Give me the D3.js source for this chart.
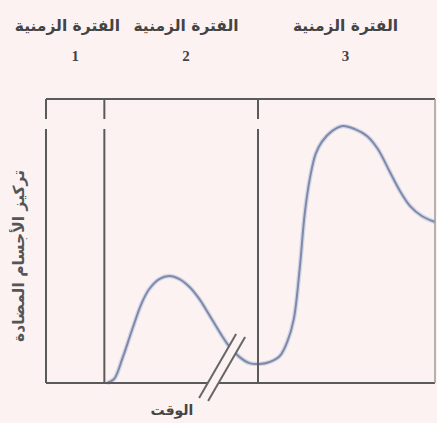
<!DOCTYPE html>
<html><head><meta charset="utf-8">
<script src="https://cdn.jsdelivr.net/npm/d3@7"></script>
<style>
html,body{margin:0;padding:0;background:#fcf2f2;}
svg{display:block;}
</style></head>
<body>
<svg id="chart" width="437" height="423"></svg>
<script>
// ---- data ----
const periodLabels = ["الفترة الزمنية", "الفترة الزمنية", "الفترة الزمنية"];
const periodNumbers = ["1", "2", "3"];
const labelPositions = [5.5, 36, 77];
const numberPositions = [7.5, 36, 77];
const dividers = [15, 54.5];
const timeValues = [15.7, 17.5, 19.6, 22.2, 24.5, 26.5, 29.1, 31.7, 34.3, 36.9, 39.4, 42.0, 44.6, 47.2, 49.7, 52.3, 54.9, 57.5, 60.1, 62.1, 63.7, 65.2, 66.5, 67.8, 69.3, 70.9, 73.5, 76.3, 79.4, 82.5, 85.3, 88.4, 91.0, 93.6, 96.6, 100];
const concentration = [0, 1.4, 8.5, 19, 27.8, 33, 36.6, 37.7, 36.6, 33.8, 29.6, 23.9, 18, 12.7, 9.2, 7, 6.7, 7.4, 9.5, 14.8, 22.5, 40, 59.5, 71.8, 80.6, 84.9, 88.7, 90.5, 89.4, 87, 82.4, 74.3, 67.6, 62.3, 58.8, 56.7];
const xTitle = "الوقت";
const yTitle = "تركيز الأجسام المضادة";
const breakAt = 44.5;

// ---- layout ----
const svg = d3.select("#chart");
const L = 46, R = 435, T = 99, B = 383;
const x = d3.scaleLinear().domain([0, 100]).range([L, R]);
const y = d3.scaleLinear().domain([0, 100]).range([B, T]);
const ink = "#5a5a5a";
const font = "'DejaVu Sans', sans-serif";

// curve
const line = d3.line().x((d, i) => x(timeValues[i])).y(d => y(d)).curve(d3.curveCatmullRom.alpha(0.5));
svg.append("path").attr("d", line(concentration))
  .attr("fill", "none").attr("stroke", "#d3d7e6").attr("stroke-width", 4.5);
svg.append("path").attr("d", line(concentration))
  .attr("fill", "none").attr("stroke", "#8089aa").attr("stroke-width", 2);

// frame
const gapTop = 119, gapBot = 129;
svg.append("line").attr("x1", L).attr("x2", R).attr("y1", T).attr("y2", T)
  .attr("stroke", ink).attr("stroke-width", 2);
svg.append("line").attr("x1", L).attr("x2", R).attr("y1", B).attr("y2", B)
  .attr("stroke", ink).attr("stroke-width", 2);
svg.append("line").attr("x1", R).attr("x2", R).attr("y1", T).attr("y2", B)
  .attr("stroke", "#9a9a9a").attr("stroke-width", 1.5);
[0, ...dividers].forEach(t => {
  svg.append("line").attr("x1", x(t)).attr("x2", x(t)).attr("y1", T).attr("y2", gapTop)
    .attr("stroke", ink).attr("stroke-width", 2);
  svg.append("line").attr("x1", x(t)).attr("x2", x(t)).attr("y1", gapBot).attr("y2", B)
    .attr("stroke", ink).attr("stroke-width", 2);
});

// break mark
const bx = x(breakAt);
const dx = 37, dy = -64, off = 9;
const p0 = [bx - 20, 398];
svg.append("polygon")
  .attr("points", [[p0[0], p0[1]], [p0[0] + dx, p0[1] + dy], [p0[0] + dx + off, p0[1] + dy + 3], [p0[0] + off, p0[1] + 3]].map(p => p.join(",")).join(" "))
  .attr("fill", "#fcf2f2");
[0, off].forEach((o, i) => {
  svg.append("line")
    .attr("x1", p0[0] + o).attr("y1", p0[1] + i * 3)
    .attr("x2", p0[0] + o + dx).attr("y2", p0[1] + dy + i * 3)
    .attr("stroke", "#666").attr("stroke-width", 2);
});

// top labels
periodLabels.forEach((s, i) => {
  svg.append("text").attr("x", x(labelPositions[i])).attr("y", 31)
    .attr("text-anchor", "middle").attr("font-family", font).attr("font-weight", "bold")
    .attr("font-size", 15.5).attr("fill", "#444").attr("direction", "rtl").text(s);
});
periodNumbers.forEach((s, i) => {
  svg.append("text").attr("x", x(numberPositions[i])).attr("y", 61)
    .attr("text-anchor", "middle").attr("font-family", "'Liberation Serif', serif").attr("font-weight", "bold")
    .attr("font-size", 15).attr("fill", "#444").text(s);
});

// axis titles
svg.append("text").attr("x", 172).attr("y", 415)
  .attr("text-anchor", "middle").attr("font-family", font).attr("font-weight", "bold")
  .attr("font-size", 14).attr("fill", "#444").text(xTitle);
svg.append("text").attr("transform", "translate(24,256) rotate(-90)")
  .attr("text-anchor", "middle").attr("font-family", font).attr("font-weight", "bold")
  .attr("font-size", 15.5).attr("fill", "#555").text(yTitle);
</script>
</body></html>
